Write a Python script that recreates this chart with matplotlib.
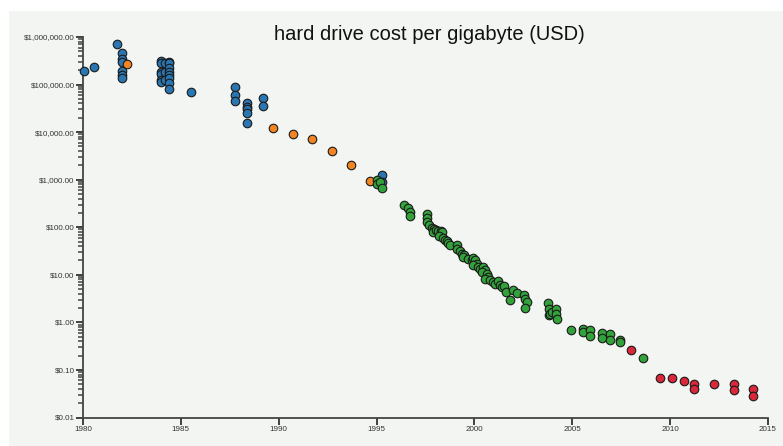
import numpy as np
import matplotlib.pyplot as plt
from matplotlib.patches import Rectangle

plt.rcParams['font.family'] = ['Liberation Sans', 'DejaVu Sans']

# blue series
blue_year = [1980.07, 1980.56, 1981.72,
             1981.98, 1981.98, 1981.98, 1981.98, 1981.98, 1981.98,
             1983.97, 1983.97, 1983.97, 1983.97, 1983.97, 1983.97,
             1984.2, 1984.2, 1984.2,
             1984.39, 1984.39, 1984.39, 1984.39, 1984.39, 1984.39, 1984.39, 1984.39,
             1985.53,
             1987.78, 1987.78, 1987.78,
             1988.38, 1988.38, 1988.38, 1988.38, 1988.38,
             1989.2, 1989.2,
             1995.28, 1995.28]
blue_cost = [195000, 237000, 710000,
             467000, 338000, 293000, 191000, 158000, 139000,
             316000, 280000, 187000, 163000, 124000, 115000,
             280000, 180000, 124000,
             302000, 280000, 219000, 187000, 158000, 135000, 110000, 79000,
             70000,
             90000, 60000, 44600,
             40000, 34000, 30000, 25800, 15800,
             52000, 36000,
             1265, 900]

# orange series
orange_year = [1982.23, 1989.71, 1990.71, 1991.72, 1992.71, 1993.71, 1994.68]
orange_cost = [266000, 12000, 9100, 7000, 4000, 2000, 944]

# green series
green_year = [1995.0, 1995.04, 1995.15, 1995.28,
              1996.42, 1996.59, 1996.69, 1996.69,
              1997.6, 1997.6, 1997.6, 1997.66, 1997.82, 1997.94, 1997.87, 1998.04,
              1998.16, 1998.29, 1998.36, 1998.21, 1998.41, 1998.5, 1998.58, 1998.67,
              1998.75, 1999.09, 1999.13, 1999.26, 1999.35, 1999.49, 1999.4, 1999.69,
              1999.86, 1999.95, 2000.03, 2000.12, 1999.91, 2000.2, 2000.29, 2000.42,
              2000.54, 2000.37, 2000.63, 2000.71, 2000.54, 2000.8, 2000.97, 2001.05,
              2001.22, 2001.31, 2001.39, 2001.51, 2001.61, 2001.82, 2001.96, 2002.19,
              2002.55, 2002.58, 2002.67, 2002.58,
              2003.74, 2003.83, 2003.83, 2003.86, 2003.95, 2004.17, 2004.17, 2004.24,
              2004.92, 2005.57, 2005.57, 2005.92, 2005.92, 2006.5, 2006.5,
              2006.91, 2006.91, 2007.42, 2007.42, 2008.63]
green_cost = [975, 803, 900, 673,
              300, 260, 207, 170,
              188, 155, 129, 110, 98, 94, 80, 89,
              82, 84, 79, 65, 59, 55, 51.5, 46.8,
              41.8, 43.1, 35.6, 31.8, 27.9, 25.7, 23.7, 21.9,
              20.2, 23.0, 20.2, 17.2, 15.8, 14.6, 13.5, 14.6,
              12.4, 11.5, 10.6, 9.0, 8.3, 7.65, 7.06, 6.5,
              7.4, 6.0, 5.5, 5.7, 4.35, 2.9, 4.7, 4.2,
              3.8, 3.15, 2.7, 2.04,
              2.55, 1.94, 1.40, 1.52, 1.65, 1.94, 1.52, 1.15,
              0.70, 0.73, 0.615, 0.69, 0.51, 0.60, 0.48,
              0.56, 0.43, 0.43, 0.385, 0.175]

# red series
red_year = [2008.0, 2009.5, 2010.08, 2010.73, 2011.24, 2011.24, 2012.26,
            2013.28, 2013.28, 2014.25, 2014.25]
red_cost = [0.265, 0.068, 0.068, 0.059, 0.0495, 0.039, 0.0495,
            0.0495, 0.038, 0.039, 0.029]

year_ticks = [1980, 1985, 1990, 1995, 2000, 2005, 2010, 2015]
cost_ticks = [0.01, 0.1, 1, 10, 100, 1000, 10000, 100000, 1000000]
cost_labels = ['$0.01', '$0.10', '$1.00', '$10.00', '$100.00', '$1,000.00',
               '$10,000.00', '$100,000.00', '$1,000,000.00']

bg = '#f2f5f1'
fig = plt.figure(figsize=(7.83, 4.46), dpi=100, facecolor='white')
fig.patches.append(Rectangle((9 / 783, 0), 1, 1 - 11 / 446, transform=fig.transFigure,
                             facecolor=bg, edgecolor='none', zorder=-10))

ax = fig.add_axes([83 / 783, 28.5 / 446, 685 / 783, 380.5 / 446])
ax.set_facecolor('none')

style = dict(s=38, edgecolors='#1a1a1a', linewidths=0.8, clip_on=False, zorder=3)
ax.scatter(blue_year, blue_cost, c='#2a76b2', **style)
ax.scatter(orange_year, orange_cost, c='#f28424', **style)
ax.scatter(green_year, green_cost, c='#33a23a', **style)
ax.scatter(red_year, red_cost, c='#d8283a', **style)

ax.set_yscale('log')
ax.set_xlim(1980, 2015)
ax.set_ylim(0.01, 1000000)
ax.set_xticks(year_ticks)
ax.set_xticklabels([str(y) for y in year_ticks])
ax.set_yticks(cost_ticks)
ax.set_yticklabels(cost_labels)
minor = [d * k for d in cost_ticks[:-1] for k in range(2, 10)]
ax.set_yticks(minor, minor=True)
ax.set_yticklabels([''] * len(minor), minor=True)
ax.set_xticks([], minor=True)

for s in ['top', 'right']:
    ax.spines[s].set_visible(False)
for s in ['left', 'bottom']:
    ax.spines[s].set_color('#444444')
    ax.spines[s].set_linewidth(1.3)

ax.tick_params(axis='both', which='major', labelsize=5.8, color='#333333',
               labelcolor='#333333', width=1.3, length=5, pad=1)
ax.tick_params(axis='y', which='minor', color='#444444', width=1.1, length=3.5)

fig.text(0.548, 1 - 35 / 446, 'hard drive cost per gigabyte (USD)', ha='center',
         va='center', fontsize=14.5, color='#111111')

fig.savefig('out.png', dpi=100, facecolor=fig.get_facecolor())
